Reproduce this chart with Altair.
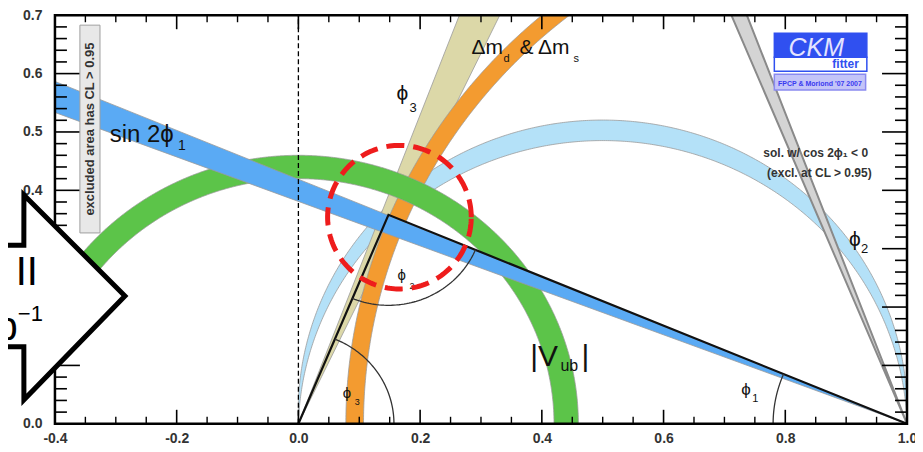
import altair as alt
import numpy as np
import pandas as pd

# ---------------- axes ----------------
X_DOMAIN = [-0.4, 1.0]
Y_DOMAIN = [0.0, 0.7]
X_LABELS = [-0.4, -0.2, 0.0, 0.2, 0.4, 0.6, 0.8, 1.0]
Y_LABELS = [0.0, 0.1, 0.2, 0.3, 0.4, 0.5, 0.6, 0.7]
X_MINOR = [-0.35, -0.3, -0.25, -0.15, -0.1, -0.05, 0.05, 0.1, 0.15, 0.25, 0.3, 0.35,
           0.45, 0.5, 0.55, 0.65, 0.7, 0.75, 0.85, 0.9, 0.95]
Y_MINOR = [0.02, 0.04, 0.06, 0.08, 0.12, 0.14, 0.16, 0.18, 0.22, 0.24, 0.26, 0.28,
           0.32, 0.34, 0.36, 0.38, 0.42, 0.44, 0.46, 0.48, 0.52, 0.54, 0.56, 0.58,
           0.62, 0.64, 0.66, 0.68]

# ---------------- constraints ----------------
SIN2PHI1_TAN = [0.381, 0.419]        # wedge from (1,0): tan(phi1) range
SIN2PHI1_ALT_DEG = [67.6, 69.4]      # second (excluded) solution, wedge from (1,0)
VUB_R = [0.42, 0.46]                 # |Vub| annulus radii around (0,0)
DM_R = [0.893, 0.922]                # dm_d & dm_s annulus radii around (1,0)
PHI3_DEG = [64.7, 69.3]              # phi3 wedge from (0,0)
PHI2_CY = [-0.015, 0.02]             # phi2 band: centre heights of the two circles through (0,0),(1,0)
APEX = [0.148, 0.358]
ARC_R = {"phi1": 0.22, "phi2": 0.155, "phi3": 0.157}

COL = {"phi2": "#b4e1f8", "phi3": "#dcd8a8", "dm": "#f39b30", "vub": "#5cc449",
       "sin": "#5aaaf4", "alt": "#d4d4d4"}

XS = alt.Scale(domain=X_DOMAIN, nice=False, zero=False)
YS = alt.Scale(domain=Y_DOMAIN, nice=False, zero=False)
XAX = alt.Axis(values=X_LABELS, format=".1f", title=None, ticks=False, domain=False, grid=False,
               labelFont="Liberation Sans", labelFontWeight="bold", labelFontSize=14,
               labelColor="#333333", labelPadding=8, labelFlush=False, labelOverlap=False,
               labelExpr="replace(datum.label, '−', '-')")
YAX = alt.Axis(values=Y_LABELS, format=".1f", title=None, ticks=False, domain=False, grid=False,
               labelFont="Liberation Sans", labelFontWeight="bold", labelFontSize=14,
               labelColor="#333333", labelPadding=13, labelOverlap=False)


def ex(f="x"):
    return alt.X(f"{f}:Q", scale=XS, axis=XAX)


def ey(f="y"):
    return alt.Y(f"{f}:Q", scale=YS, axis=YAX)


def area(df, color, stroke="#9a9a9a", sw=0.8):
    return alt.Chart(df).mark_area(color=color, stroke=stroke, strokeWidth=sw, clip=True,
                                   orient="vertical", opacity=1).encode(
        x=ex("x"), y=ey("lo"), y2=alt.Y2("hi:Q"))


def annulus(cx, r0, r1, xmin, xmax):
    t = np.linspace(0, 0.7, 120)
    xs = np.concatenate([np.linspace(xmin, xmax, 700),
                         cx + r1 * np.cos(t), cx - r1 * np.cos(t),
                         cx + r0 * np.cos(t), cx - r0 * np.cos(t)])
    xs = np.unique(xs[(xs >= xmin) & (xs <= xmax)])
    hi = np.sqrt(np.clip(r1 ** 2 - (xs - cx) ** 2, 0, None))
    lo = np.sqrt(np.clip(r0 ** 2 - (xs - cx) ** 2, 0, None))
    return pd.DataFrame({"x": xs, "lo": lo, "hi": hi})


# bands
vub_df = annulus(0.0, VUB_R[0], VUB_R[1], -0.4, VUB_R[1])
dm_df = annulus(1.0, DM_R[0], DM_R[1], 1 - DM_R[1], 1.0)

xs2 = 0.5 - 0.5 * np.cos(np.linspace(0, np.pi, 500))


def circ(c, x):
    R = np.sqrt(0.25 + c ** 2)
    return c + np.sqrt(np.clip(R ** 2 - (x - 0.5) ** 2, 0, None))


phi2_df = pd.DataFrame({"x": xs2, "lo": np.clip(circ(PHI2_CY[0], xs2), 0, None),
                        "hi": circ(PHI2_CY[1], xs2)})

xw = np.array([-0.4, 1.0])
sin_df = pd.DataFrame({"x": xw, "lo": SIN2PHI1_TAN[0] * (1 - xw), "hi": SIN2PHI1_TAN[1] * (1 - xw)})
xa = np.array([0.68, 1.0])
alt_df = pd.DataFrame({"x": xa, "lo": np.tan(np.radians(SIN2PHI1_ALT_DEG[0])) * (1 - xa),
                       "hi": np.tan(np.radians(SIN2PHI1_ALT_DEG[1])) * (1 - xa)})
xp = np.array([0.0, 0.36])
phi3_df = pd.DataFrame({"x": xp, "lo": np.tan(np.radians(PHI3_DEG[0])) * xp,
                        "hi": np.tan(np.radians(PHI3_DEG[1])) * xp})

layers = [area(phi2_df, COL["phi2"]),
          area(phi3_df, COL["phi3"]),
          area(dm_df, COL["dm"]),
          area(vub_df, COL["vub"]),
          area(sin_df, COL["sin"]),
          area(alt_df, COL["alt"], stroke="#8a8a8a", sw=2)]

# x = 0 dashed line
layers.append(alt.Chart(pd.DataFrame({"x": [0.0], "y": [0.0], "y2": [0.7]})).mark_rule(
    color="black", strokeWidth=1.3, strokeDash=[5, 3]).encode(x=ex("x"), y=ey("y"), y2="y2:Q"))

# triangle
tri = pd.DataFrame({"x": [0.0, APEX[0], 1.0], "y": [0.0, APEX[1], 0.0], "i": [0, 1, 2]})
layers.append(alt.Chart(tri).mark_line(color="#111", strokeWidth=2.2).encode(
    x=ex("x"), y=ey("y"), order="i:Q"))

# angle arcs
a3 = np.degrees(np.arctan2(APEX[1], APEX[0]))
a2a = np.degrees(np.arctan2(-APEX[1], -APEX[0]))
a2b = np.degrees(np.arctan2(-APEX[1], 1 - APEX[0]))
a1 = np.degrees(np.arctan2(APEX[1], APEX[0] - 1))
arcs = []
for g, (cx, cy, r, t0, t1) in {"phi3": (0, 0, ARC_R["phi3"], 0, a3),
                               "phi2": (APEX[0], APEX[1], ARC_R["phi2"], a2a, a2b),
                               "phi1": (1, 0, ARC_R["phi1"], a1, 180)}.items():
    t = np.radians(np.linspace(t0, t1, 60))
    arcs.append(pd.DataFrame({"x": cx + r * np.cos(t), "y": cy + r * np.sin(t),
                              "i": np.arange(60), "g": g}))
arcs = pd.concat(arcs)
layers.append(alt.Chart(arcs).mark_line(color="#333", strokeWidth=1.3).encode(
    x=ex("x"), y=ey("y"), detail="g:N", order="i:Q"))


# frame ticks (inside)
def ticks(vals, axis, length, sw):
    d = pd.DataFrame({"v": vals})
    out = []
    if axis == "x":
        out.append(alt.Chart(d).mark_rule(color="black", strokeWidth=sw).encode(
            x=ex("v"), y=alt.value(409), y2=alt.value(409 - length)))
        out.append(alt.Chart(d).mark_rule(color="black", strokeWidth=sw).encode(
            x=ex("v"), y=alt.value(0), y2=alt.value(length)))
    else:
        out.append(alt.Chart(d).mark_rule(color="black", strokeWidth=sw).encode(
            y=ey("v"), x=alt.value(0), x2=alt.value(length)))
        out.append(alt.Chart(d).mark_rule(color="black", strokeWidth=sw).encode(
            y=ey("v"), x=alt.value(853), x2=alt.value(853 - length)))
    return out


layers += ticks(X_LABELS, "x", 14, 1.6) + ticks(X_MINOR, "x", 7, 1.4)
layers += ticks(Y_LABELS, "y", 25, 1.6) + ticks(Y_MINOR, "y", 12, 1.6)

layers.append(alt.Chart(pd.DataFrame({"a": [0]})).mark_rect(fillOpacity=0, stroke="black", strokeWidth=2.5).encode(
    x=alt.value(0), x2=alt.value(853), y=alt.value(0), y2=alt.value(409)))

# labels
LABELS = pd.DataFrame([
    ("sin 2ϕ", -0.310, 0.4826, 24), ("1", -0.198, 0.469, 14),
    ("Δm", 0.2845, 0.633, 21), ("d", 0.337, 0.6195, 11),
    ("& Δm", 0.3632, 0.633, 21), ("s", 0.452, 0.6195, 11),
    ("ϕ", 0.161, 0.5545, 21), ("3", 0.1827, 0.534, 13),
    ("ϕ", 0.9048, 0.3046, 21), ("2", 0.9245, 0.2927, 13),
    ("ϕ", 0.7276, 0.0496, 17), ("1", 0.7456, 0.0377, 11),
    ("ϕ", 0.163, 0.2465, 15), ("2", 0.1827, 0.231, 9),
    ("ϕ", 0.0727, 0.0445, 15), ("3", 0.0924, 0.0325, 9),
    ("|V", 0.381, 0.0993, 30), ("ub", 0.4305, 0.0907, 16), ("|", 0.465, 0.0993, 30),
], columns=["text", "x", "y", "size"])
layers.append(alt.Chart(LABELS).mark_text(font="Liberation Sans", align="left", baseline="alphabetic",
                                           color="#111").encode(
    x=ex("x"), y=ey("y"), text="text:N", size=alt.Size("size:Q", scale=None)))

# sol. w/ cos note
NOTE = pd.DataFrame({"text": ["sol. w/ cos 2ϕ₁ < 0", "(excl. at CL > 0.95)"],
                     "x": [0.850, 0.856], "y": [0.457, 0.423]})
layers.append(alt.Chart(NOTE).mark_text(font="Liberation Sans", fontWeight="bold", fontSize=12,
                                         color="#333", align="center", baseline="alphabetic").encode(
    x=ex("x"), y=ey("y"), text="text:N"))

# vertical CL box
BOX = pd.DataFrame({"x0": [-0.359], "x1": [-0.326], "y0": [0.327], "y1": [0.683]})
layers.append(alt.Chart(BOX).mark_rect(fill="#e8e8e8", stroke="#a0a0a0", strokeWidth=1).encode(
    x=ex("x0"), x2="x1:Q", y=ey("y0"), y2="y1:Q"))
layers.append(alt.Chart(pd.DataFrame({"text": ["excluded area has CL > 0.95"], "x": [-0.3425], "y": [0.505]}))
              .mark_text(font="Liberation Sans", fontWeight="bold", fontSize=13, angle=270,
                         color="#333", align="center", baseline="middle").encode(
    x=ex("x"), y=ey("y"), text="text:N"))

# CKMfitter logo
LOGO = pd.DataFrame({"x0": [0.782, 0.782, 0.782], "x1": [0.934, 0.934, 0.932],
                     "y0": [0.628, 0.604, 0.572], "y1": [0.669, 0.628, 0.599],
                     "fill": ["#3050f0", "#ffffff", "#c4c4f8"], "stroke": ["#3050f0", "#3050f0", "#8a8af0"]})
layers.append(alt.Chart(LOGO).mark_rect(strokeWidth=1.5).encode(
    x=ex("x0"), x2="x1:Q", y=ey("y0"), y2="y1:Q",
    fill=alt.Fill("fill:N", scale=None), stroke=alt.Stroke("stroke:N", scale=None)))
layers.append(alt.Chart(pd.DataFrame({"text": ["CKM"], "x": [0.851], "y": [0.631]})).mark_text(
    font="Liberation Sans", fontStyle="italic", fontSize=25, color="#e4e4ff", align="center",
    baseline="alphabetic").encode(x=ex("x"), y=ey("y"), text="text:N"))
layers.append(alt.Chart(pd.DataFrame({"text": ["fitter"], "x": [0.921], "y": [0.609]})).mark_text(
    font="Liberation Sans", fontWeight="bold", fontSize=12, color="#3050f0", align="right",
    baseline="alphabetic").encode(x=ex("x"), y=ey("y"), text="text:N"))
layers.append(alt.Chart(pd.DataFrame({"text": ["FPCP & Moriond '07 2007"], "x": [0.857], "y": [0.579]})).mark_text(
    font="Liberation Sans", fontWeight="bold", fontSize=7, color="#3a3af0", align="center",
    baseline="alphabetic").encode(x=ex("x"), y=ey("y"), text="text:N"))

# red dashed circle
RED_C = [0.166, 0.354]
RED_R = [0.118, 0.123]
tt = np.linspace(0, 2 * np.pi, 200)
red = pd.DataFrame({"x": RED_C[0] + RED_R[0] * np.cos(tt), "y": RED_C[1] + RED_R[1] * np.sin(tt),
                    "i": np.arange(len(tt))})
layers.append(alt.Chart(red).mark_line(color="#ee1c1c", strokeWidth=5, strokeDash=[18, 9]).encode(
    x=ex("x"), y=ey("y"), order="i:Q"))

# big arrow overlay
ARROW = pd.DataFrame({"x": [-0.49, -0.4511, -0.4510, -0.285],
                      "lo": [0.132, 0.132, 0.041, 0.219], "hi": [0.306, 0.306, 0.392, 0.219]})
layers.append(alt.Chart(ARROW).mark_area(fill="white", stroke="black", strokeWidth=5,
                                          strokeJoin="miter", orient="vertical").encode(
    x=ex("x"), y=ey("lo"), y2=alt.Y2("hi:Q")))
ARROW_TXT = pd.DataFrame([("Belle II", -0.428, 0.238, 40),
                          ("50 ab", -0.461, 0.144, 40)],
                         columns=["text", "x", "y", "size"])
layers.append(alt.Chart(ARROW_TXT).mark_text(font="Liberation Sans", align="right", baseline="alphabetic",
                                              color="black").encode(
    x=ex("x"), y=ey("y"), text="text:N", size=alt.Size("size:Q", scale=None)))
layers.append(alt.Chart(pd.DataFrame({"text": ["−1"], "x": [-0.461], "y": [0.176]})).mark_text(
    font="Liberation Sans", fontSize=22, align="left", baseline="alphabetic", color="black").encode(
    x=ex("x"), y=ey("y"), text="text:N"))

chart = alt.layer(*layers).properties(
    width=853, height=409,
    padding={"left": 47, "top": 7, "right": 8, "bottom": 22},
    autosize=alt.AutoSizeParams(type="none"),
).configure_view(strokeWidth=0)

chart.save("out.html", embed_options={"renderer": "svg", "actions": False})
